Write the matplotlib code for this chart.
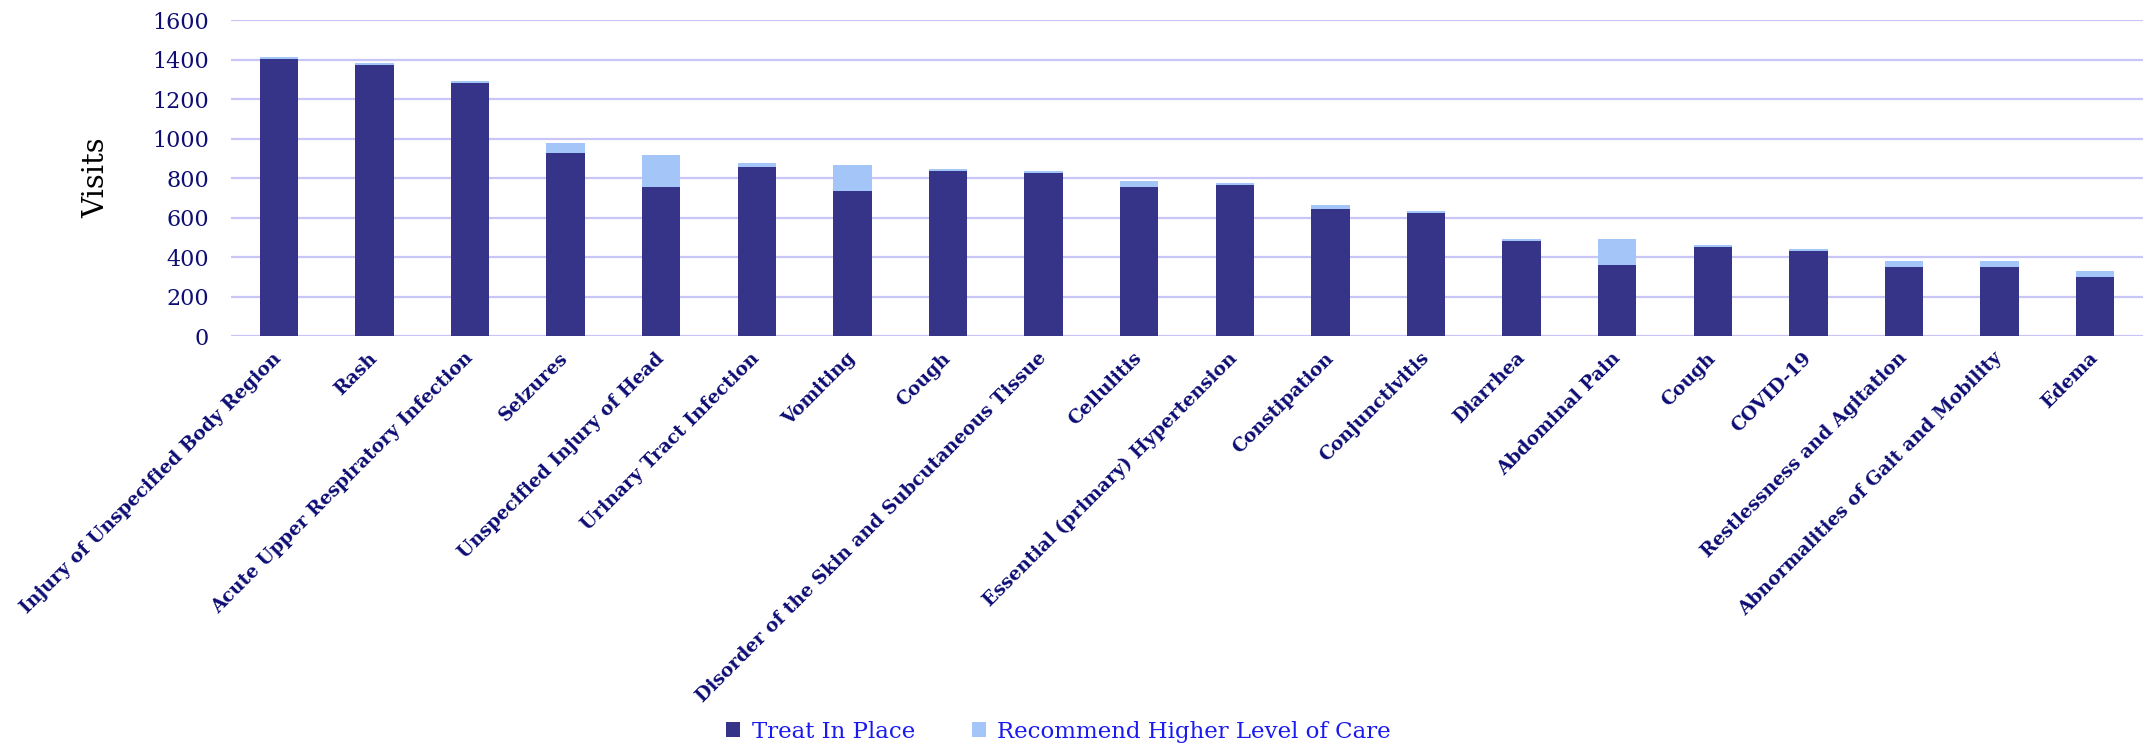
import matplotlib.pyplot as plt
import numpy as np

# Visits by condition
categories = [
    'Injury of Unspecified Body Region', 'Rash', 'Acute Upper Respiratory Infection',
    'Seizures', 'Unspecified Injury of Head', 'Urinary Tract Infection', 'Vomiting',
    'Cough', 'Disorder of the Skin and Subcutaneous Tissue', 'Cellulitis',
    'Essential (primary) Hypertension', 'Constipation', 'Conjunctivitis', 'Diarrhea',
    'Abdominal Pain', 'Cough', 'COVID-19', 'Restlessness and Agitation',
    'Abnormalities of Gait and Mobility', 'Edema',
]
treat_in_place = [1404, 1372, 1281, 926, 754, 855, 733, 835, 824, 754,
                  764, 642, 622, 480, 358, 449, 429, 348, 348, 297]
higher_care = [8, 12, 10, 51, 162, 20, 132, 10, 11, 30,
               10, 20, 10, 10, 132, 11, 10, 30, 30, 31]
y_ticks = [0, 200, 400, 600, 800, 1000, 1200, 1400, 1600]

dark = '#363488'
light = '#a4c5f8'
grid_col = '#c8c5f7'
navy = '#0d0d73'

plt.rcParams['font.family'] = 'DejaVu Serif'

fig = plt.figure(figsize=(21.43, 7.47), dpi=100)
ax = fig.add_axes([0.1078, 0.5502, 0.8922, 0.423])

x = np.arange(len(categories))
ax.bar(x, treat_in_place, width=0.4, color=dark, label='Treat In Place', zorder=3)
ax.bar(x, higher_care, width=0.4, bottom=treat_in_place, color=light,
       label='Recommend Higher Level of Care', zorder=3)

ax.set_xlim(-0.5, len(categories) - 0.5)
ax.set_ylim(0, 1600)
ax.set_yticks(y_ticks)
ax.set_yticklabels([str(t) for t in y_ticks], fontsize=16, color=navy)
ax.yaxis.grid(True, color=grid_col, linewidth=1.6, zorder=0)
ax.tick_params(axis='both', length=0)
ax.tick_params(axis='y', pad=16)

ax.set_xticks(x)
ax.set_xticklabels(categories, rotation=45, ha='right', va='center',
                   rotation_mode='anchor', fontsize=13.5, fontweight='bold', color=navy)
ax.tick_params(axis='x', pad=14)

for s in ax.spines.values():
    s.set_visible(False)

ax.set_ylabel('Visits', fontsize=21, color='black', labelpad=30)

fig.legend(loc='lower center', bbox_to_anchor=(0.494, -0.022), ncol=2, frameon=False,
           fontsize=16.5, labelcolor='#1a1aee', handlelength=0.6, handleheight=0.6,
           columnspacing=2.5, handletextpad=0.5)

fig.savefig('out.png', dpi=100)
